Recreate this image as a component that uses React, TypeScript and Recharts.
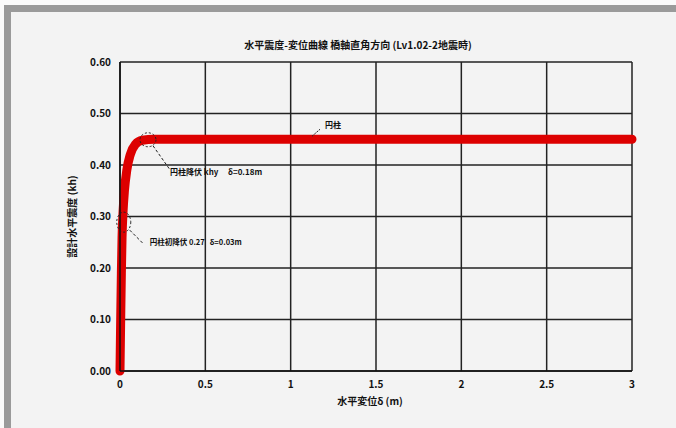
import { LineChart, Line, XAxis, YAxis, CartesianGrid, ReferenceDot } from 'recharts';

// Horizontal displacement (m) vs design seismic coefficient
const dispValues = [0, 0.004, 0.008, 0.012, 0.018, 0.026, 0.04, 0.06, 0.09, 0.13, 0.2, 0.3, 3];
const khValues = [0, 0.1, 0.19, 0.26, 0.31, 0.35, 0.39, 0.42, 0.44, 0.448, 0.45, 0.45, 0.45];

const xTicks = [0, 0.5, 1, 1.5, 2, 2.5, 3];
const yTicks = [0, 0.1, 0.2, 0.3, 0.4, 0.5, 0.6];

const titleText = '水平震度-変位曲線 橋軸直角方向 (Lv1.02-2地震時)';
const yLabel = '設計水平震度 (kh)';
const xLabel = '水平変位δ (m)';

const yieldPoint = { x: 0.164, y: 0.449, name: '円柱降伏 khy', delta: 'δ=0.18m' };
const firstYieldPoint = { x: 0.022, y: 0.289, name: '円柱初降伏 0.27', delta: 'δ=0.03m' };
const seriesTag = { x: 1.125, y: 0.45, name: '円柱' };

const chartData = dispValues.map((d, i) => ({ disp: d, kh: khValues[i] }));

const font = '"Noto Sans CJK JP", "DejaVu Sans", sans-serif';

const App = () => {
  // annotation drawn around a data point, positioned by the chart's scales
  const marker = (name: string, delta: string, rx: number, ry: number, lead: number[], textX: number, textY: number, deltaX: number, size: number) =>
    (props: any) => {
      const { cx, cy } = props;
      return (
        <g>
          <ellipse cx={cx} cy={cy} rx={rx} ry={ry} fill="none" stroke="#222" strokeWidth={1} strokeDasharray="2 2" />
          <line x1={cx + lead[0]} y1={cy + lead[1]} x2={cx + lead[2]} y2={cy + lead[3]} stroke="#222" strokeWidth={1} strokeDasharray="3 2" />
          <text x={cx + textX} y={cy + textY} fontSize={size} fontFamily={font} fontWeight="bold" fill="#111">{name}</text>
          <text x={cx + deltaX} y={cy + textY} fontSize={size} fontFamily={font} fontWeight="bold" fill="#111">{delta}</text>
        </g>
      );
    };

  const tagShape = (props: any) => {
    const { cx, cy } = props;
    return (
      <g>
        <line x1={cx} y1={cy - 3} x2={cx + 8} y2={cy - 10} stroke="#222" strokeWidth={1} strokeDasharray="2 1" />
        <text x={cx + 13} y={cy - 11} fontSize={8} fontFamily={font} fontWeight="bold" fill="#111">{seriesTag.name}</text>
      </g>
    );
  };

  return (
    <div style={{ position: 'absolute', left: 0, top: 0, width: 676, height: 428, background: '#fafafa', overflow: 'hidden' }}>
      <div style={{ position: 'absolute', left: 4, top: 5, width: 672, height: 423, background: '#f3f3f3', borderLeft: '7px solid #9a9a9a', borderTop: '7px solid #9a9a9a', boxSizing: 'border-box' }} />
      <div style={{ position: 'absolute', left: 0, top: 37, width: 716, textAlign: 'center', fontFamily: font, fontSize: 10, fontWeight: 'bold', color: '#111' }}>
        {titleText}
      </div>
      <div style={{ position: 'absolute', left: 0, top: 393, width: 740, textAlign: 'center', fontFamily: font, fontSize: 10, fontWeight: 'bold', color: '#111' }}>
        {xLabel}
      </div>
      <div style={{ position: 'absolute', left: 0, top: 0 }}>
        <LineChart width={676} height={428} data={chartData} margin={{ top: 62, right: 44, bottom: 27, left: 60 }}>
          <CartesianGrid stroke="#222" strokeWidth={1.5} horizontalValues={yTicks} verticalValues={xTicks} />
          <XAxis
            dataKey="disp"
            type="number"
            domain={[0, 3]}
            ticks={xTicks}
            height={30}
            axisLine={{ stroke: '#111', strokeWidth: 1.5 }}
            tickLine={false}
            tick={{ fontSize: 10, fontFamily: font, fill: '#111', fontWeight: 'bold' }}
            tickMargin={4}
          />
          <YAxis
            type="number"
            domain={[0, 0.6]}
            ticks={yTicks}
            width={60}
            axisLine={{ stroke: '#111', strokeWidth: 1.5 }}
            tickLine={false}
            tickFormatter={(v: number) => v.toFixed(2)}
            tick={{ fontSize: 10, fontFamily: font, fill: '#111', fontWeight: 'bold' }}
            tickMargin={3}
            label={{ value: yLabel, angle: -90, position: 'insideLeft', offset: 12, style: { fontSize: 10, fontFamily: font, fontWeight: 'bold', fill: '#111', textAnchor: 'middle' } }}
          />
          <Line
            type="monotone"
            dataKey="kh"
            stroke="#dd0000"
            strokeWidth={9}
            strokeLinecap="round"
            strokeLinejoin="round"
            dot={false}
            isAnimationActive={false}
          />
          <ReferenceDot
            x={yieldPoint.x}
            y={yieldPoint.y}
            r={8}
            shape={marker(yieldPoint.name, yieldPoint.delta, 8, 7, [5, 6, 22, 30], 22, 35, 80, 8)}
          />
          <ReferenceDot
            x={firstYieldPoint.x}
            y={firstYieldPoint.y}
            r={8}
            shape={marker(firstYieldPoint.name, firstYieldPoint.delta, 7, 10, [6, 8, 20, 22], 26, 23, 86, 7.5)}
          />
          <ReferenceDot x={seriesTag.x} y={seriesTag.y} r={4} shape={tagShape} />
        </LineChart>
      </div>
    </div>
  );
};

export default App;
